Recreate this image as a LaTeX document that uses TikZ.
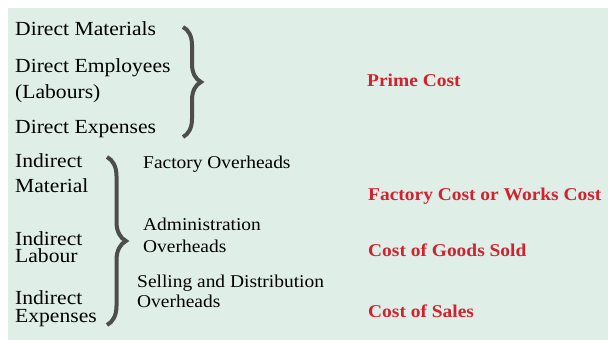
\documentclass[tikz,border=0pt]{standalone}
\usepackage{xcolor}
\usepackage{fontspec}
\setmainfont{Liberation Serif}[FakeStretch=1.08]
\usetikzlibrary{decorations.pathreplacing}
\definecolor{panelgreen}{HTML}{DFEEE6}
\definecolor{costred}{HTML}{D1232F}
\definecolor{bracegray}{HTML}{4D4D4D}
\tikzset{item/.style={anchor=base west,inner sep=0pt,align=left,font=\fontsize{20}{25}\selectfont}}
\tikzset{overhead/.style={anchor=base west,inner sep=0pt,align=left,font=\fontsize{18}{21}\selectfont}}
\tikzset{cost/.style={anchor=base west,inner sep=0pt,text=costred,font=\fontsize{18}{22}\selectfont\bfseries}}
\tikzset{curly/.style={draw=bracegray,line width=4pt,decorate,decoration={brace,amplitude=#1}}}

\begin{document}
\begin{tikzpicture}[x=1pt,y=-1pt]
\useasboundingbox (0,0) rectangle (608,340);
\fill[panelgreen] (8,8) rectangle (608,340);
% direct costs
\node[item] (dmat) at (15,35) {Direct Materials};
\node[item,font=\fontsize{20}{26}\selectfont] (demp) at (15,98) {Direct Employees\\(Labours)};
\node[item] (dexp) at (15,133) {Direct Expenses};
% indirect costs
\node[item,font=\fontsize{20}{25}\selectfont] (imat) at (15,192) {Indirect\\Material};
\node[item,font=\fontsize{20}{17}\selectfont] (ilab) at (15,262) {Indirect\\Labour};
\node[item,font=\fontsize{20}{18}\selectfont] (iexp) at (15,322) {Indirect\\Expenses};
% overheads
\node[overhead] (fover) at (143,168) {Factory Overheads};
\node[overhead,font=\fontsize{18}{22}\selectfont] (aover) at (143,252) {Administration\\Overheads};
\node[overhead,font=\fontsize{18}{20}\selectfont] (sover) at (137,307) {Selling and Distribution\\Overheads};
% costs
\node[cost] (prime) at (367,86) {Prime Cost};
\node[cost] (works) at (368,200) {Factory Cost or Works Cost};
\node[cost] (goods) at (368,256) {Cost of Goods Sold};
\node[cost] (sales) at (368,317) {Cost of Sales};
% braces
\coordinate (dtop) at (183,27);
\coordinate (dbot) at (183,137);
\coordinate (itop) at (107,157);
\coordinate (ibot) at (107,325);
\draw[curly=18] (dtop) -- (dbot);
\draw[curly=19] (itop) -- (ibot);
\end{tikzpicture}
\end{document}
